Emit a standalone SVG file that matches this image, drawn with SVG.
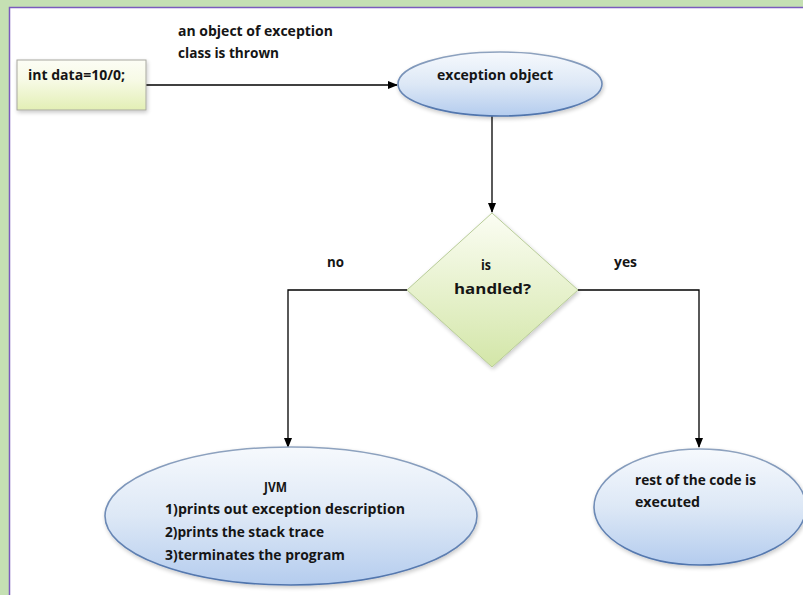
<svg xmlns="http://www.w3.org/2000/svg" width="803" height="595" viewBox="0 0 803 595">
<defs>
<linearGradient id="gGreen" x1="0" y1="0" x2="0" y2="1">
<stop offset="0" stop-color="#fcfdf5"/>
<stop offset="0.4" stop-color="#f7fae6"/>
<stop offset="1" stop-color="#e3efb5"/>
</linearGradient>
<linearGradient id="gDia" x1="0" y1="0" x2="0" y2="1">
<stop offset="0" stop-color="#fbfdf3"/>
<stop offset="1" stop-color="#d3e6a8"/>
</linearGradient>
<linearGradient id="gBlue" x1="0" y1="0" x2="0" y2="1">
<stop offset="0" stop-color="#f6f9fd"/>
<stop offset="0.5" stop-color="#dde8f6"/>
<stop offset="1" stop-color="#b4ccee"/>
</linearGradient>
<linearGradient id="gStroke" x1="0" y1="0" x2="0" y2="1">
<stop offset="0" stop-color="#8fa3bf"/>
<stop offset="1" stop-color="#4f74ad"/>
</linearGradient>
<filter id="sh" x="-10%" y="-10%" width="120%" height="130%">
<feGaussianBlur in="SourceAlpha" stdDeviation="2"/>
<feOffset dx="1" dy="2"/>
<feComponentTransfer><feFuncA type="linear" slope="0.22"/></feComponentTransfer>
<feMerge><feMergeNode/><feMergeNode in="SourceGraphic"/></feMerge>
</filter>
<marker id="arr" markerWidth="10" markerHeight="8" refX="9" refY="4" orient="auto" markerUnits="userSpaceOnUse">
<path d="M0,0 L10,4 L0,8 z" fill="#000"/>
</marker>
</defs>
<style>
text{font-family:"Open Sans","Liberation Sans",sans-serif;font-size:13.5px;font-weight:700;fill:#151515;}
.ell{fill:url(#gBlue);stroke:url(#gStroke);stroke-width:1.6;}
.ln{fill:none;stroke:#000;stroke-width:1.3;}
</style>
<rect x="0" y="0" width="803" height="595" fill="#c5e0b3"/>
<rect x="10" y="7" width="793" height="588" fill="#fff"/>
<path d="M9.5,595 V7.5 H803" fill="none" stroke="#7b5bbd" stroke-width="1.5"/>

<g id="connectors">
<path class="ln" d="M146,85 H397" marker-end="url(#arr)"/>
<path class="ln" d="M492,116 V212" marker-end="url(#arr)"/>
<path class="ln" d="M407,290 H288 V447" marker-end="url(#arr)"/>
<path class="ln" d="M578,290 H699 V447" marker-end="url(#arr)"/>
<text x="178" y="36" textLength="155" lengthAdjust="spacingAndGlyphs">an object of exception</text>
<text x="178" y="58" textLength="101" lengthAdjust="spacingAndGlyphs">class is thrown</text>
<text x="327" y="267" textLength="17" lengthAdjust="spacingAndGlyphs">no</text>
<text x="614" y="267" textLength="23" lengthAdjust="spacingAndGlyphs">yes</text>
</g>

<g id="stmt">
<rect x="17" y="60" width="129" height="50" fill="url(#gGreen)" stroke="#a8a8a0" stroke-width="1" filter="url(#sh)"/>
<text x="28" y="80" textLength="97" lengthAdjust="spacingAndGlyphs">int data=10/0;</text>
</g>

<g id="exobj">
<ellipse class="ell" cx="500" cy="84" rx="102" ry="32" filter="url(#sh)"/>
<text x="437" y="80" textLength="116" lengthAdjust="spacingAndGlyphs">exception object</text>
</g>

<g id="decision">
<polygon points="492,213 578,290 492,367 407,290" fill="url(#gDia)" stroke="#b8cc98" stroke-width="1" filter="url(#sh)"/>
<text x="481" y="270" textLength="10" lengthAdjust="spacingAndGlyphs">is</text>
<text x="454" y="294" textLength="77" lengthAdjust="spacingAndGlyphs">handled?</text>
</g>

<g id="jvm">
<ellipse class="ell" cx="291" cy="516" rx="186" ry="69" filter="url(#sh)"/>
<text x="264" y="492" textLength="23" lengthAdjust="spacingAndGlyphs">JVM</text>
<text x="165" y="514" textLength="240" lengthAdjust="spacingAndGlyphs">1)prints out exception  description</text>
<text x="165" y="537" textLength="159" lengthAdjust="spacingAndGlyphs">2)prints the stack trace</text>
<text x="165" y="560" textLength="180" lengthAdjust="spacingAndGlyphs">3)terminates the program</text>
</g>

<g id="rest">
<ellipse class="ell" cx="700" cy="507" rx="106" ry="58" filter="url(#sh)"/>
<text x="635" y="485" textLength="121" lengthAdjust="spacingAndGlyphs">rest of the code is</text>
<text x="635" y="507" textLength="65" lengthAdjust="spacingAndGlyphs">executed</text>
</g>
</svg>
